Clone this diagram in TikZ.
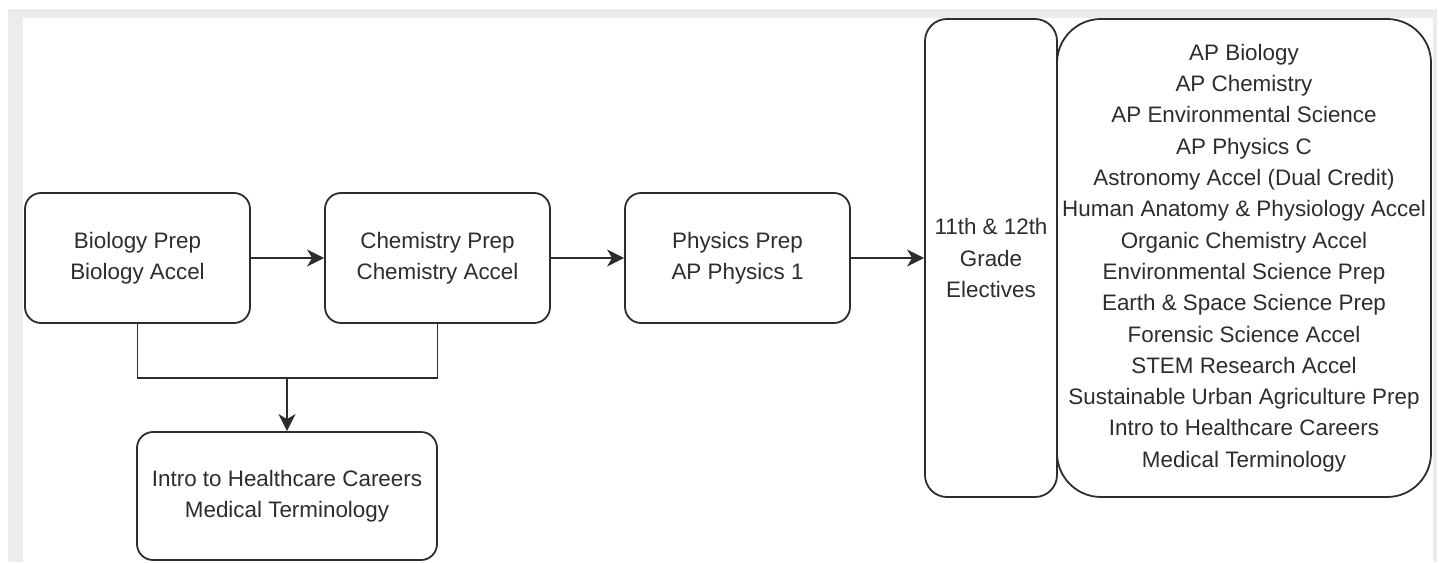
\documentclass[tikz,border=0pt]{standalone}
\usepackage{fontspec}
\setmainfont{Liberation Sans}
\usepackage{tikz}
\usetikzlibrary{arrows.meta,calc,positioning}
\definecolor{framegray}{RGB}{236,236,236}
\definecolor{inkgray}{RGB}{45,45,45}
\tikzstyle{course}=[draw=inkgray, line width=1.8pt, fill=white, rounded corners=16pt,
	minimum width=225pt, minimum height=130pt, inner sep=0pt, align=center,
	text=inkgray, font=\fontsize{22.4}{31.3}\selectfont]
\tikzset{flow/.style={draw=inkgray, line width=1.8pt, arrows={-Stealth[length=17pt,width=17pt,inset=5pt]}}}
\tikzstyle{link}=[draw=inkgray, line width=1.8pt]

\begin{document}
\begin{tikzpicture}[x=1pt,y=-1pt]
	\useasboundingbox (0,0) rectangle (1439,562);
	% page frame
	\fill[white] (0,0) rectangle (1439,562);
	\fill[framegray] (8,9) rectangle (1437,562);
	\fill[white] (23,18) rectangle (1433,562);
	% courses
	\node[course] (bio) at (137.5,258) {Biology Prep\\Biology Accel};
	\node[course] (chem) at (437.5,258) {Chemistry Prep\\Chemistry Accel};
	\node[course] (phys) at (737.5,258) {Physics Prep\\AP Physics 1};
	\node[course, minimum width=300pt, minimum height=128pt] (intro) at (287,496) {Intro to Healthcare Careers\\Medical Terminology};
	\node[course, minimum width=132pt, minimum height=478pt, rounded corners=22pt] (grade) at (991,258) {11th \& 12th\\Grade\\Electives};
	\node[course, minimum width=374pt, minimum height=478pt, rounded corners=44pt] (elect) at (1244,258) {AP Biology\\AP Chemistry\\AP Environmental Science\\AP Physics C\\Astronomy Accel (Dual Credit)\\Human Anatomy \& Physiology Accel\\Organic Chemistry Accel\\Environmental Science Prep\\Earth \& Space Science Prep\\Forensic Science Accel\\STEM Research Accel\\Sustainable Urban Agriculture Prep\\Intro to Healthcare Careers\\Medical Terminology};
	% arrows
	\draw[flow] (bio) -- (chem);
	\draw[flow] (chem) -- (phys);
	\draw[flow] (phys) -- (grade);
	\coordinate (join) at (287,378);
	\draw[link] (bio.south) |- (join) -| (chem.south);
	\draw[flow] (join) -- (intro);
\end{tikzpicture}
\end{document}
